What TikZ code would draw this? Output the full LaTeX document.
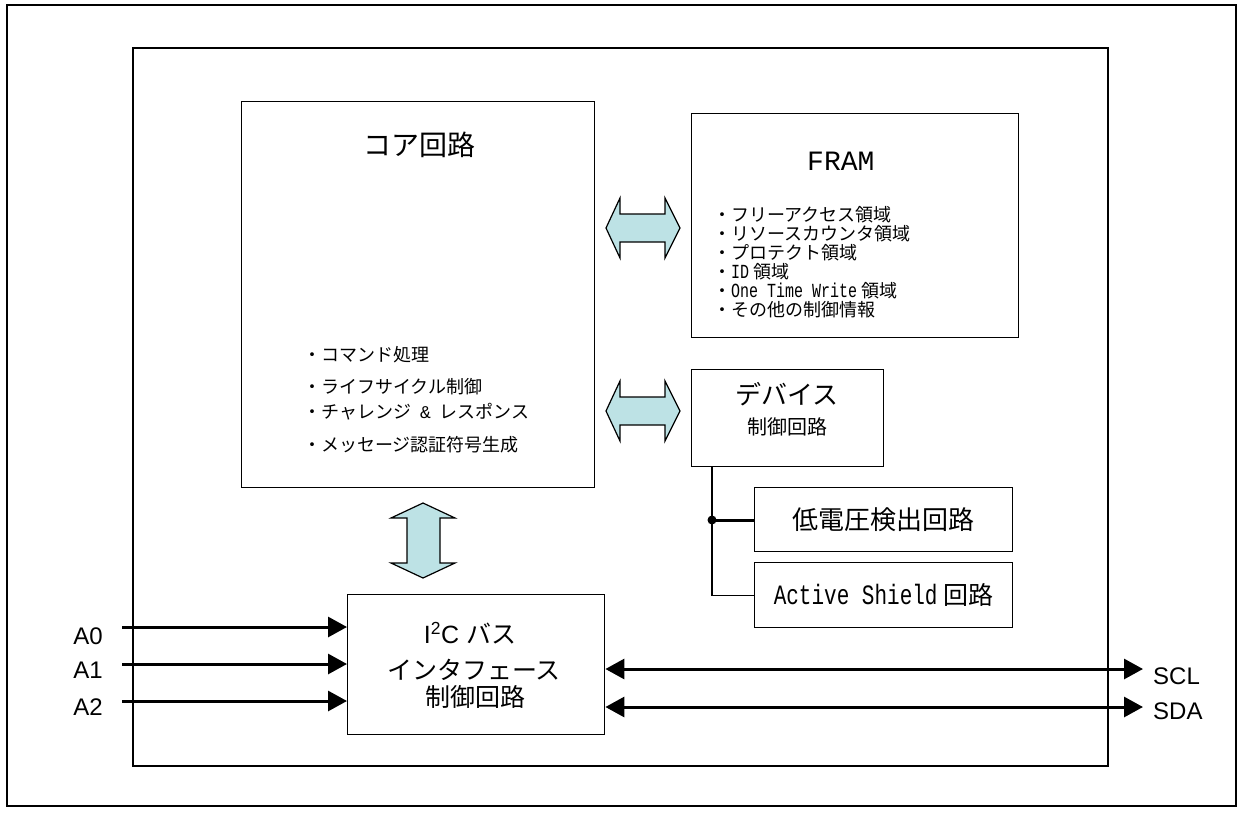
\documentclass[tikz,border=0pt]{standalone}
\usepackage{fontspec}
\setmainfont{Liberation Sans}
\newfontfamily\jp{Noto Sans CJK JP}
\newfontfamily\gmono[FakeStretch=0.75]{Liberation Mono}
\newfontfamily\wmono{Liberation Mono}
\usetikzlibrary{arrows.meta}
\newcommand{\fs}[1]{\fontsize{#1}{#1}\selectfont}
\begin{document}
\begin{tikzpicture}[x=1pt,y=-1pt,
  box/.style={draw, line width=1.4pt, inner sep=0pt, anchor=north west},
  blockarrow/.style={draw, line width=1.2pt, fill=arrowfill, line join=miter},
  sig/.style={line width=3pt, -{Triangle[length=19pt,width=20pt]}},
  sigboth/.style={line width=3pt, {Triangle[length=19pt,width=20pt]}-{Triangle[length=19pt,width=20pt]}},
  thinline/.style={line width=1.3pt},
  lbl/.style={inner sep=0pt, font=\fs{24}},
  jtxt/.style={inner sep=0pt, anchor=west, font=\jp\fs{18}}
]
\definecolor{arrowfill}{RGB}{189,226,229}
\useasboundingbox (0,0) rectangle (1243,812);
% frames
\draw[line width=2.2pt] (7,5) rectangle (1236,806);
\draw[line width=1.5pt] (133,48) rectangle (1108,766);
% boxes
\node[box, minimum width=353pt, minimum height=386pt] (core) at (241,101) {};
\node[box, minimum width=327pt, minimum height=224pt] (fram) at (691,113) {};
\node[box, minimum width=192pt, minimum height=97pt] (dev) at (691,369) {};
\node[box, minimum width=258pt, minimum height=64pt] (lowv) at (754,487) {};
\node[box, minimum width=258pt, minimum height=65pt] (act) at (754,562) {};
\node[box, minimum width=257pt, minimum height=140pt] (i2c) at (347,594) {};
% core texts
\node[inner sep=0pt, font=\jp\fs{28}] (coret) at (419,145) {コア回路};
\node[jtxt] (c1) at (303,355) {・コマンド処理};
\node[jtxt] (c2) at (303,387) {・ライフサイクル制御};
\node[jtxt] (c3) at (303,412) {・チャレンジ\hspace{.5em}{\wmono\&}\hspace{.5em}レスポンス};
\node[jtxt] (c4) at (303,445) {・メッセージ認証符号生成};
% fram texts
\node[inner sep=0pt, anchor=west, font=\wmono\fs{28}] (framt) at (807,161) {FRAM};
\node[jtxt] (f1) at (713,215) {・フリーアクセス領域};
\node[jtxt] (f2) at (713,234) {・リソースカウンタ領域};
\node[jtxt] (f3) at (713,253) {・プロテクト領域};
\node[jtxt] (f4) at (713,272) {・{\gmono\fs{20}ID}\hspace{4pt}領域};
\node[jtxt] (f5) at (713,291) {・{\gmono\fs{20}One Time Write}\hspace{4pt}領域};
\node[jtxt] (f6) at (713,310) {・その他の制御情報};
% device texts
\node[inner sep=0pt, font=\jp\fs{26}] (devt1) at (787,394) {デバイス};
\node[inner sep=0pt, font=\jp\fs{20}] (devt2) at (787,427) {制御回路};
\node[inner sep=0pt, font=\jp\fs{26}] (lowvt) at (lowv.center) {低電圧検出回路};
\node[inner sep=0pt, font=\fs{25}] (actt) at (act.center) {{\gmono\fs{28}Active Shield}\hspace{6pt}{\jp 回路}};
% i2c texts
\node[inner sep=0pt, font=\fs{25}] (i2ct1) at (470,633) {I\textsuperscript{2}C {\jp バス}};
\node[inner sep=0pt, font=\jp\fs{25}] (i2ct2) at (474,670) {インタフェース};
\node[inner sep=0pt, font=\jp\fs{25}] (i2ct3) at (475,697) {制御回路};
% block arrows
\draw[blockarrow] (606,228) -- (620,198) -- (620,214) -- (665,214) -- (665,198) -- (680,228)
  -- (665,258) -- (665,242) -- (620,242) -- (620,258) -- cycle;
\draw[blockarrow] (606,411) -- (620,381) -- (620,397) -- (665,397) -- (665,381) -- (680,411)
  -- (665,441) -- (665,425) -- (620,425) -- (620,441) -- cycle;
\draw[blockarrow] (423,503) -- (455,518) -- (440,518) -- (440,563) -- (455,563) -- (423,578)
  -- (391,563) -- (407,563) -- (407,518) -- (391,518) -- cycle;
% device connections
\coordinate (j) at (712,520);
\draw[thinline] (j |- dev.south) -- (j |- act.west) -- (act.west);
\draw[line width=3pt] (j) -- (j -| lowv.west);
\fill (j) circle (4.5pt);
% inputs
\coordinate (a0s) at (122,627);
\coordinate (a1s) at (122,664);
\coordinate (a2s) at (122,701);
\draw[sig] (a0s) -- (a0s -| i2c.west);
\draw[sig] (a1s) -- (a1s -| i2c.west);
\draw[sig] (a2s) -- (a2s -| i2c.west);
\node[lbl, anchor=east] (la0) at (103,636) {A0};
\node[lbl, anchor=east] (la1) at (103,670) {A1};
\node[lbl, anchor=east] (la2) at (103,707) {A2};
% outputs
\coordinate (scle) at (1143,669);
\coordinate (sdae) at (1143,707);
\draw[sigboth] (i2c.east |- scle) -- (scle);
\draw[sigboth] (i2c.east |- sdae) -- (sdae);
\node[lbl, anchor=west] (lscl) at (1153,676) {SCL};
\node[lbl, anchor=west] (lsda) at (1153,711) {SDA};
\end{tikzpicture}
\end{document}
